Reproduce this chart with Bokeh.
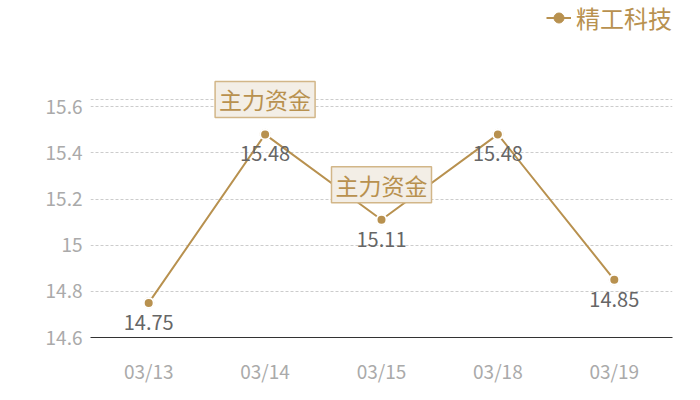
from bokeh.plotting import figure
from bokeh.models import (ColumnDataSource, FixedTicker, Label, Legend, LegendItem,
                          Range1d)
from bokeh.core.properties import value
from bokeh.embed import file_html
from bokeh.resources import INLINE

# data
dates = ["03/13", "03/14", "03/15", "03/18", "03/19"]
prices = [14.75, 15.48, 15.11, 15.48, 14.85]
price_labels = ["14.75", "15.48", "15.11", "15.48", "14.85"]
series_name = "精工科技"
# points carrying the "主力资金" mark
flag_idx = [1, 2]
flag_text = "主力资金"

y_ticks = [14.6, 14.8, 15.0, 15.2, 15.4, 15.6]
y_top_line = 15.63
# the frame runs up to the top of the page so legend and marks are not clipped
y_min, y_max = 14.6, 16.06

gold = "#B8914F"
font = "Noto Sans CJK SC"

xs = list(range(len(dates)))
source = ColumnDataSource(data=dict(x=xs, y=prices, lab=price_labels))

p = figure(width=692, height=392, output_backend="svg", toolbar_location=None,
           x_range=Range1d(-0.5, len(dates) - 0.5), y_range=Range1d(y_min, y_max),
           min_border_left=90, min_border_right=20, min_border_top=0,
           min_border_bottom=55)
p.outline_line_color = None
p.background_fill_color = "white"

# axes
p.xaxis.ticker = FixedTicker(ticks=xs)
p.xaxis.major_label_overrides = {i: d for i, d in enumerate(dates)}
p.xaxis.axis_line_color = "#333333"
p.xaxis.major_tick_line_color = None
p.xaxis.minor_tick_line_color = None
p.xaxis.major_label_text_color = "#AAAAAA"
p.xaxis.major_label_text_font = font
p.xaxis.major_label_text_font_size = "19px"
p.xaxis.major_label_standoff = 13

p.yaxis.ticker = FixedTicker(ticks=y_ticks)
p.yaxis.major_label_overrides = {t: ("15" if t == 15.0 else "%g" % t) for t in y_ticks}
p.yaxis.axis_line_color = None
p.yaxis.major_tick_line_color = None
p.yaxis.minor_tick_line_color = None
p.yaxis.major_label_text_color = "#AAAAAA"
p.yaxis.major_label_text_font = font
p.yaxis.major_label_text_font_size = "19px"
p.yaxis.major_label_standoff = 2

p.xgrid.grid_line_color = None
p.ygrid.ticker = FixedTicker(ticks=y_ticks[1:] + [y_top_line])
p.ygrid.grid_line_color = "#CCCCCC"
p.ygrid.grid_line_dash = "3 2"

# series
ln = p.line("x", "y", source=source, line_color=gold, line_width=2)
# solid marker for the legend swatch, hidden under the ringed points
leg_pt = p.scatter("x", "y", source=source, size=10, fill_color=gold,
                   line_color=gold)
pt = p.scatter("x", "y", source=source, size=10, fill_color=gold,
               line_color="white", line_width=2)

p.text("x", "y", text="lab", source=source, text_align="center",
       text_baseline="top", y_offset=12, text_color="#666666",
       text_font=value(font), text_font_size="20px")

for i in flag_idx:
    p.add_layout(Label(x=xs[i], y=prices[i], y_offset=17, text=flag_text,
                       text_align="center", text_baseline="bottom",
                       text_color=gold, text_font=font, text_font_size="23px",
                       background_fill_color="#F3EEE6",
                       border_line_color="#D2B688", border_line_width=1.5,
                       padding=dict(left=4, right=4, top=1, bottom=1)))

legend = Legend(items=[LegendItem(label=series_name, renderers=[ln, leg_pt])],
                location="top_right", orientation="horizontal",
                border_line_color=None, background_fill_alpha=0,
                label_text_color=gold, label_text_font=font,
                label_text_font_size="24px", glyph_width=25, glyph_height=25,
                label_standoff=5, padding=0, margin=0)
p.add_layout(legend, "center")

open("out.html", "w").write(file_html(p, INLINE))
